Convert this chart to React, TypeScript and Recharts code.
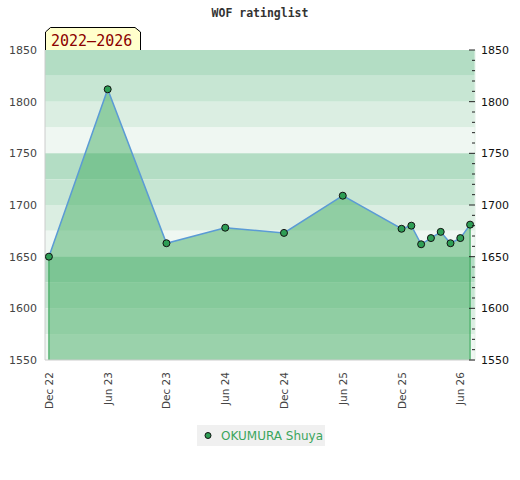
import {
  Area,
  ComposedChart,
  Customized,
  Legend,
  ReferenceArea,
  ReferenceLine,
  XAxis,
  YAxis,
} from "recharts";

const chartTitle = "WOF ratinglist";
const periodLabel = "2022–2026";
const playerName = "OKUMURA Shuya";

const months = [
  "2022-12", "2023-06", "2023-12", "2024-06", "2024-12", "2025-06", "2025-12",
  "2026-01", "2026-02", "2026-03", "2026-04", "2026-05", "2026-06", "2026-07",
];
const ratings = [1650, 1812, 1663, 1678, 1673, 1709, 1677, 1680, 1662, 1668, 1674, 1663, 1668, 1681];

const xTickLabels = ["Dec 22", "Jun 23", "Dec 23", "Jun 24", "Dec 24", "Jun 25", "Dec 25", "Jun 26"];
const yTicks = [1550, 1600, 1650, 1700, 1750, 1800, 1850];
const yMin = 1550;
const yMax = 1850;

const monthNames = ["Jan", "Feb", "Mar", "Apr", "May", "Jun", "Jul", "Aug", "Sep", "Oct", "Nov", "Dec"];
const baseYear = 2022;
const baseMonth = 12;

const bandColors = ["#b3ddc4", "#c7e6d3", "#dbeee2", "#eff7f2"];
const bandStep = 25;

function monthIndex(year: number, month: number) {
  return (year - baseYear) * 12 + (month - baseMonth);
}

const data = months.map((m, i) => {
  const [y, mo] = m.split("-").map(Number);
  return { m: monthIndex(y, mo), rating: ratings[i] };
});

const xTicks = xTickLabels.map((label) => {
  const [name, yy] = label.split(" ");
  return monthIndex(2000 + Number(yy), monthNames.indexOf(name) + 1);
});

const labelFor = (v: number) => xTickLabels[xTicks.indexOf(v)] ?? "";

const rightTicks: number[] = [];
for (let v = yMin; v <= yMax; v += 10) rightTicks.push(v);

const bands: { y1: number; y2: number; color: string }[] = [];
for (let top = yMax, i = 0; top > yMin; top -= bandStep, i++) {
  bands.push({ y1: top - bandStep, y2: top, color: bandColors[i % bandColors.length] });
}

const first = data[0];
const last = data[data.length - 1];

function XTick({ x, y, payload }: any) {
  return (
    <text
      x={x}
      y={y}
      dx={-4}
      dy={4}
      transform={`rotate(-90 ${x} ${y})`}
      textAnchor="end"
      fontSize={10.5}
      fill="#444"
    >
      {labelFor(payload.value)}
    </text>
  );
}

function RightTick({ x, y, payload }: any) {
  const axisX = x - 6;
  const major = payload.value % 50 === 0;
  return (
    <g>
      <line x1={axisX - (major ? 6 : 3)} x2={axisX} y1={y} y2={y} stroke="#222" strokeWidth={1} />
      {major && (
        <text x={x} y={y} dy={4} fontSize={11} fill="#111">
          {payload.value}
        </text>
      )}
    </g>
  );
}

function Decorations() {
  return (
    <g>
      <text
        x={260}
        y={17}
        textAnchor="middle"
        fontFamily="DejaVu Sans Mono"
        fontWeight="bold"
        fontSize={11.5}
        fill="#333"
      >
        {chartTitle}
      </text>
      <polygon
        points="45.5,50.5 45.5,32 50.5,27.5 135,27.5 140.5,32 140.5,50.5"
        fill="#ffffcc"
        stroke="#000"
        strokeWidth={1}
      />
      <text x={51} y={46} fontFamily="DejaVu Sans Mono" fontSize={15} fill="#8b0000">
        {periodLabel}
      </text>
    </g>
  );
}

function LegendBox() {
  return (
    <div
      style={{
        display: "flex",
        alignItems: "center",
        height: 21,
        background: "#f0f0f0",
        fontSize: 12,
        color: "#3ba55c",
        fontFamily: "DejaVu Sans",
      }}
    >
      <svg width={24} height={21}>
        <circle cx={11} cy={10.5} r={3} fill="#2e9e55" stroke="#111" strokeWidth={1} />
      </svg>
      <span>{playerName}</span>
    </div>
  );
}

export default function App() {
  return (
    <div style={{ position: "absolute", left: 0, top: 0, fontFamily: "DejaVu Sans" }}>
      <ComposedChart width={520} height={480} data={data} margin={{ top: 50, right: 0, bottom: 0, left: 0 }}>
        {bands.map((b) => (
          <ReferenceArea
            key={b.y1}
            yAxisId="left"
            y1={b.y1}
            y2={b.y2}
            fill={b.color}
            fillOpacity={1}
            stroke="none"
            ifOverflow="hidden"
          />
        ))}
        <XAxis
          type="number"
          dataKey="m"
          domain={[-0.4, 43.5]}
          ticks={xTicks}
          interval={0}
          tick={<XTick />}
          tickLine={false}
          axisLine={{ stroke: "#cccccc" }}
          height={120}
          allowDataOverflow
        />
        <YAxis
          yAxisId="left"
          orientation="left"
          width={45}
          domain={[yMin, yMax]}
          ticks={yTicks}
          interval={0}
          tickLine={false}
          axisLine={{ stroke: "#cccccc" }}
          tick={{ fill: "#444", fontSize: 11 }}
          allowDataOverflow
        />
        <YAxis
          yAxisId="right"
          orientation="right"
          width={45}
          domain={[yMin, yMax]}
          ticks={rightTicks}
          interval={0}
          tickSize={6}
          tickMargin={0}
          tickLine={false}
          axisLine={{ stroke: "#e4f1e8" }}
          tick={<RightTick />}
          allowDataOverflow
        />
        <Area
          yAxisId="left"
          type="linear"
          dataKey="rating"
          stroke="#5b9bd5"
          strokeWidth={1.5}
          fill="#45ad64"
          fillOpacity={0.5}
          dot={{ r: 3.5, fill: "#2e9e55", fillOpacity: 1, stroke: "#111", strokeWidth: 1 }}
          activeDot={false}
          isAnimationActive={false}
        />
        <ReferenceLine
          yAxisId="left"
          segment={[{ x: first.m, y: yMin }, { x: first.m, y: first.rating }]}
          stroke="#2ea050"
          strokeWidth={1}
        />
        <ReferenceLine
          yAxisId="left"
          segment={[{ x: last.m, y: yMin }, { x: last.m, y: last.rating }]}
          stroke="#2ea050"
          strokeWidth={1}
        />
        <Customized component={<Decorations />} />
        <Legend
          layout="horizontal"
          verticalAlign="middle"
          wrapperStyle={{ position: "absolute", top: 425, left: 197, width: 128, height: 21 }}
          content={() => <LegendBox />}
        />
      </ComposedChart>
    </div>
  );
}
